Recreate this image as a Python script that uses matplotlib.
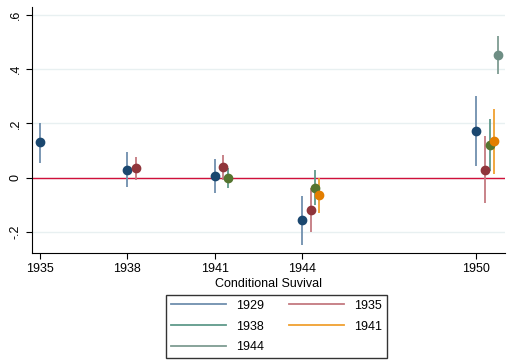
import matplotlib.pyplot as plt
from matplotlib.lines import Line2D

plt.rcParams['font.family'] = ['Liberation Sans', 'DejaVu Sans']

# estimates by birth cohort, x = conditional survival year
cohorts = ["1929", "1935", "1938", "1941", "1944"]
years = [[1935, 1938, 1941, 1944, 1950],
         [1938, 1941, 1944, 1950],
         [1941, 1944, 1950],
         [1944, 1950],
         [1950]]
est = [[0.13, 0.03, 0.005, -0.158, 0.172],
       [0.035, 0.038, -0.12, 0.03],
       [0.0, -0.037, 0.12],
       [-0.065, 0.134],
       [0.454]]
lo = [[0.055, -0.036, -0.057, -0.25, 0.042],
      [-0.007, -0.007, -0.2, -0.094],
      [-0.037, -0.10, 0.023],
      [-0.13, 0.015],
      [0.384]]
hi = [[0.2, 0.095, 0.067, -0.067, 0.30],
      [0.075, 0.085, -0.04, 0.154],
      [0.036, 0.027, 0.218],
      [-0.003, 0.254],
      [0.523]]
xticks = [1935, 1938, 1941, 1944, 1950]
yticks = [-0.2, 0, 0.2, 0.4, 0.6]
ylabels = ["-.2", "0", ".2", ".4", ".6"]

dot_cols = ["#1a476f", "#90353b", "#55752f", "#e37e00", "#6e8e84"]
ci_cols = ["#6f8fae", "#c47a80", "#5f9a8a", "#f0a030", "#7e9c92"]
offsets = [0, 0.3, 0.45, 0.6, 0.75]

fig = plt.figure(figsize=(5.07, 3.64), dpi=100)
ax = fig.add_axes([0.063, 0.305, 0.933, 0.676])

for t in yticks:
    ax.axhline(t, color="#e8f0f1", lw=1, zorder=0)
ax.axhline(0, color="#d0103a", lw=1, zorder=1)

for i in range(len(cohorts)):
    xs = [y + offsets[i] for y in years[i]]
    ax.vlines(xs, lo[i], hi[i], color=ci_cols[i], lw=1.3, zorder=2)
    ax.plot(xs, est[i], "o", color=dot_cols[i], ms=6, zorder=3)

ax.set_xlim(1934.72, 1950.98)
ax.set_ylim(-0.278, 0.63)
ax.set_xticks(xticks)
ax.set_yticks(yticks)
ax.set_yticklabels(ylabels, rotation=90, va="center")
ax.tick_params(labelsize=9, length=4, width=0.8)
ax.spines["top"].set_visible(False)
ax.spines["right"].set_visible(False)
ax.set_xlabel("Conditional Suvival", fontsize=9, labelpad=2)

# legend filled row-wise like Stata
handles = [Line2D([], [], color=c, lw=1.3) for c in ci_cols]
order = [0, 2, 4, 1, 3]
fig.legend([handles[k] for k in order], [cohorts[k] for k in order],
           loc="upper center", bbox_to_anchor=(0.545, 0.19),
           ncol=2, fontsize=9, handlelength=4.4, frameon=True, fancybox=False,
           edgecolor="black", columnspacing=2.0, labelspacing=0.7,
           borderaxespad=0)

fig.savefig("out.png", dpi=100)
